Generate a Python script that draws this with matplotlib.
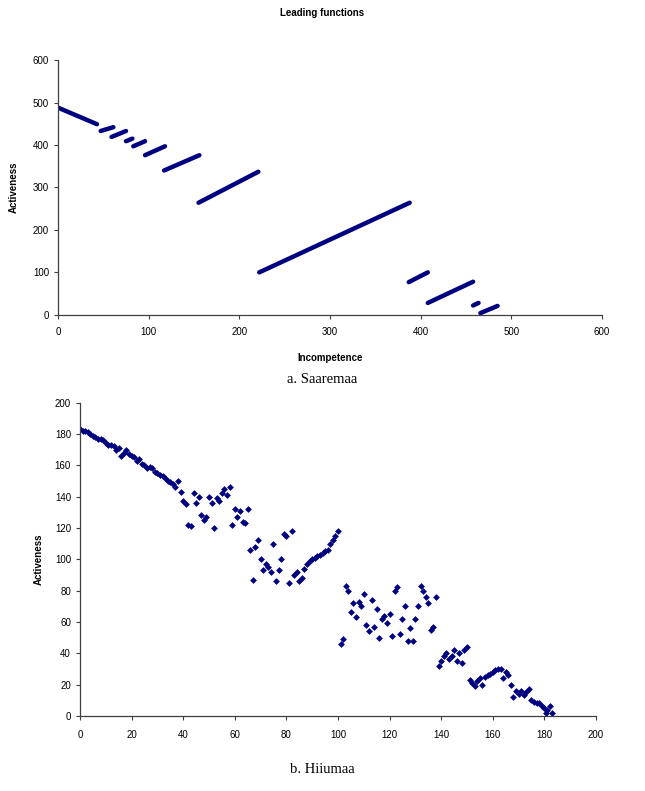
import matplotlib
matplotlib.use("Agg")
import matplotlib.pyplot as plt

plt.rcParams['font.family'] = ['Liberation Sans', 'DejaVu Sans']

NAVY = '#000080'

# ---- Saaremaa: segments of densely packed points (start/end of each run) ----
saare_x0 = [0, 47, 59, 75, 83, 96, 117, 155, 222, 387, 408, 458, 466, 486]
saare_y0 = [488, 433, 419, 409, 397, 376, 340, 264, 100, 77, 28, 22, 4, 0]
saare_x1 = [43, 61, 75, 82, 96, 118, 156, 221, 388, 408, 458, 464, 485, 486]
saare_y1 = [449, 442, 433, 415, 409, 397, 376, 337, 264, 100, 78, 28, 21, 0]

# ---- Hiiumaa: individual points ----
hiiu_x = [0, 1, 2, 3, 4, 5, 6, 7, 8, 9, 10, 11, 12, 13, 14, 15, 16, 17, 18, 19,
          20, 21, 22, 23, 24, 25, 26, 27, 28, 29, 30, 31, 32, 33, 34, 35, 36, 37,
          38, 39, 40, 41, 42, 43, 44, 45, 46, 47, 48, 49, 50, 51, 52, 53, 54, 55,
          56, 57, 58, 59, 60, 61, 62, 63, 64, 65,
          66, 67, 68, 69, 70, 71, 72, 73, 74, 75, 76, 77, 78, 79, 80, 81, 82, 83,
          84, 85, 86,
          87, 88, 89, 90, 91, 92, 93, 94, 95, 96, 97, 98, 99, 100,
          101, 102, 103, 104, 105, 106, 107, 108, 109, 110, 111, 112, 113, 114,
          115, 116, 117, 118, 119, 120, 121, 122, 123, 124, 125, 126, 127, 128,
          129, 130, 131, 132, 133, 134, 135, 136, 137, 138,
          139, 140, 141, 142, 143, 144, 145, 146, 147, 148, 149, 150,
          151, 152, 153, 154, 155, 156, 157, 158, 159, 160, 161, 162, 163, 164,
          165, 166,
          167, 168, 169, 170, 171, 172, 173, 174, 175, 176, 177, 178, 179, 180,
          180.5, 181, 182, 183]
hiiu_y = [183, 182, 182, 181, 180, 179, 178, 177, 177, 176, 174, 173, 173, 172,
          170, 171, 166, 168, 170, 167, 166, 165, 163, 164, 161, 160, 158, 159,
          158, 156, 155, 154, 153, 152, 150, 149, 148, 146,
          150, 143, 137, 135, 122, 121, 142, 136, 140, 128, 125, 127, 140, 136,
          120, 139, 137, 142, 145, 141, 146, 122, 132, 127, 131, 124, 123, 132,
          106, 87, 108, 112, 100, 93, 97, 95, 92, 110, 86, 93, 100, 116, 115, 85,
          118, 90, 92, 86, 88,
          94, 97, 99, 100, 101, 102, 103, 104, 105, 106, 110, 112, 115, 118,
          46, 49, 83, 80, 66, 72, 63, 73, 70, 78, 58, 54, 74, 57, 68, 50, 62, 64,
          59, 65, 51, 80, 82, 52, 62, 70, 48, 56, 48, 62, 70, 83, 80, 76, 72, 55,
          57, 76,
          32, 35, 38, 40, 36, 38, 42, 35, 40, 34, 42, 44,
          23, 21, 19, 22, 24, 20, 25, 26, 27, 28, 29, 30, 30, 24, 28, 26,
          20, 12, 16, 14, 16, 13, 15, 17, 10, 9, 8, 8, 6, 5, 2, 4, 6, 2]

top_xticks = [0, 100, 200, 300, 400, 500, 600]
top_yticks = [0, 100, 200, 300, 400, 500, 600]
bot_xticks = [0, 20, 40, 60, 80, 100, 120, 140, 160, 180, 200]
bot_yticks = [0, 20, 40, 60, 80, 100, 120, 140, 160, 180, 200]

fig = plt.figure(figsize=(6.45, 7.91), dpi=100)


def style(ax):
    for s in ('top', 'right'):
        ax.spines[s].set_visible(False)
    for s in ('left', 'bottom'):
        ax.spines[s].set_color('#404040')
        ax.spines[s].set_linewidth(0.9)
    ax.tick_params(direction='out', length=3, width=0.8, colors='#404040',
                   labelsize=7, labelcolor='black')


# top chart
ax1 = fig.add_axes([0.090, 0.602, 0.843, 0.322])
for xa, ya, xb, yb in zip(saare_x0, saare_y0, saare_x1, saare_y1):
    ax1.plot([xa, xb], [ya, yb], color=NAVY, lw=3.2, solid_capstyle='round')
ax1.set_xlim(0, 600)
ax1.set_ylim(0, 600)
ax1.set_xticks(top_xticks)
ax1.set_yticks(top_yticks)
style(ax1)
ax1.tick_params(axis='x', pad=6)
ax1.set_xlabel('Incompetence', fontsize=7, fontweight='bold', labelpad=11)
ax1.set_ylabel('Activeness', fontsize=7, fontweight='bold', labelpad=10)
fig.text(0.5, 0.983, 'Leading functions', ha='center', va='center',
         fontsize=7, fontweight='bold')
fig.text(0.5, 0.520, 'a. Saaremaa', ha='center', va='center',
         fontsize=10.5, family=['Liberation Serif', 'DejaVu Serif'])

# bottom chart
ax2 = fig.add_axes([0.124, 0.095, 0.800, 0.396])
ax2.scatter(hiiu_x, hiiu_y, marker='D', s=12, color=NAVY, linewidths=0)
ax2.set_xlim(0, 200)
ax2.set_ylim(0, 200)
ax2.set_xticks(bot_xticks)
ax2.set_yticks(bot_yticks)
style(ax2)
ax2.tick_params(axis='x', pad=7)
ax2.set_ylabel('Activeness', fontsize=7, fontweight='bold', labelpad=8)
fig.text(0.5, 0.027, 'b. Hiiumaa', ha='center', va='center',
         fontsize=10.5, family=['Liberation Serif', 'DejaVu Serif'])

fig.savefig('out.png', dpi=100)
